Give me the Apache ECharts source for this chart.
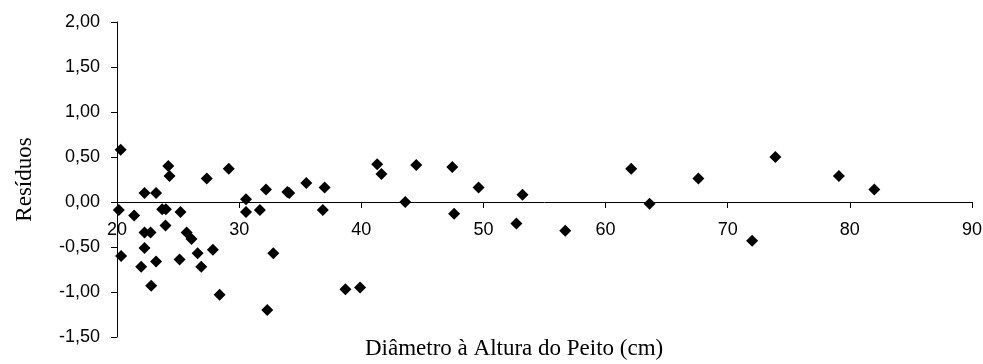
<!DOCTYPE html>
<html>
<head>
<meta charset="utf-8">
<script src="https://cdn.jsdelivr.net/npm/echarts@6/dist/echarts.min.js"></script>
<style>
html,body{margin:0;padding:0;background:#fff;}
#chart{width:983px;height:364px;}
</style>
</head>
<body>
<div id="chart"></div>
<script>
// Diâmetro à Altura do Peito (cm)
const dap = [20.3, 20.15, 20.34, 21.4, 22.25, 22.25, 22.75, 22.25, 21.98, 22.8,
  23.2, 23.2, 23.7, 24.0, 24.2, 24.3, 23.97, 25.2, 25.12, 25.7,
  26.1, 26.6, 26.9, 27.35, 27.85, 28.4, 29.15, 30.56, 30.56, 31.7,
  32.2, 32.8, 32.3, 33.95, 34.1, 35.5, 37.0, 36.85, 41.3, 41.65,
  44.5, 43.6, 47.45, 47.6, 49.6, 53.2, 52.7, 56.7, 38.7, 39.9,
  62.1, 63.6, 67.6, 72.0, 73.9, 79.1, 82.0];
// Resíduos
const residuos = [0.58, -0.09, -0.60, -0.15, 0.10, -0.34, -0.34, -0.51, -0.72, -0.93,
  0.10, -0.66, -0.08, -0.08, 0.40, 0.29, -0.26, -0.11, -0.64, -0.34,
  -0.41, -0.57, -0.72, 0.26, -0.53, -1.03, 0.37, 0.03, -0.11, -0.09,
  0.14, -0.57, -1.20, 0.11, 0.10, 0.21, 0.16, -0.09, 0.42, 0.31,
  0.41, 0.00, 0.39, -0.13, 0.16, 0.08, -0.24, -0.32, -0.97, -0.95,
  0.37, -0.02, 0.26, -0.43, 0.50, 0.29, 0.14];
const xTitle = 'Diâmetro à Altura do Peito (cm)';
const yTitle = 'Resíduos';
const xMin = 20, xMax = 90, xStep = 10;
const yMin = -1.5, yMax = 2, yStep = 0.5;

const points = dap.map((x, i) => [x, residuos[i]]);

const H = 364, gridTop = 22, gridBottom = 27;
const plotH = H - gridTop - gridBottom;
// move the x axis (line, ticks, labels) up to y = 0
const xOffset = -plotH * (0 - yMin) / (yMax - yMin);

const chart = echarts.init(document.getElementById('chart'), null, {renderer: 'canvas'});
chart.setOption({
  animation: false,
  backgroundColor: '#ffffff',
  grid: {left: 117, right: 11, top: gridTop, bottom: gridBottom, containLabel: false, outerBoundsMode: 'none'},
  xAxis: {
    type: 'value', min: xMin, max: xMax, interval: xStep,
    position: 'bottom', offset: xOffset,
    axisLine: {onZero: false, lineStyle: {color: '#000', width: 1}},
    axisTick: {show: true, inside: false, length: 6, lineStyle: {color: '#000'}},
    axisLabel: {color: '#000', fontFamily: 'Liberation Sans', fontSize: 18, margin: 19,
      showMinLabel: true, showMaxLabel: true, hideOverlap: false},
    splitLine: {show: false}
  },
  yAxis: {
    type: 'value', min: yMin, max: yMax, interval: yStep,
    name: yTitle, nameLocation: 'middle', nameGap: 81, nameRotate: 90,
    nameTextStyle: {color: '#000', fontFamily: 'Liberation Serif', fontSize: 23},
    axisLine: {onZero: false, lineStyle: {color: '#000', width: 1}},
    axisTick: {show: true, inside: false, length: 6, lineStyle: {color: '#000'}},
    axisLabel: {color: '#000', fontFamily: 'Liberation Sans', fontSize: 18, margin: 17,
      formatter: v => v.toFixed(2).replace('.', ',')},
    splitLine: {show: false}
  },
  graphic: [{
    type: 'text', left: 515 - 150, top: 337,
    style: {text: xTitle, fill: '#000', font: '23px "Liberation Serif"', width: 300, textAlign: 'left'}
  }],
  series: [{
    type: 'scatter',
    data: points,
    symbol: 'diamond',
    symbolSize: [12, 12],
    itemStyle: {color: '#000', opacity: 1}
  }]
});
</script>
</body>
</html>
